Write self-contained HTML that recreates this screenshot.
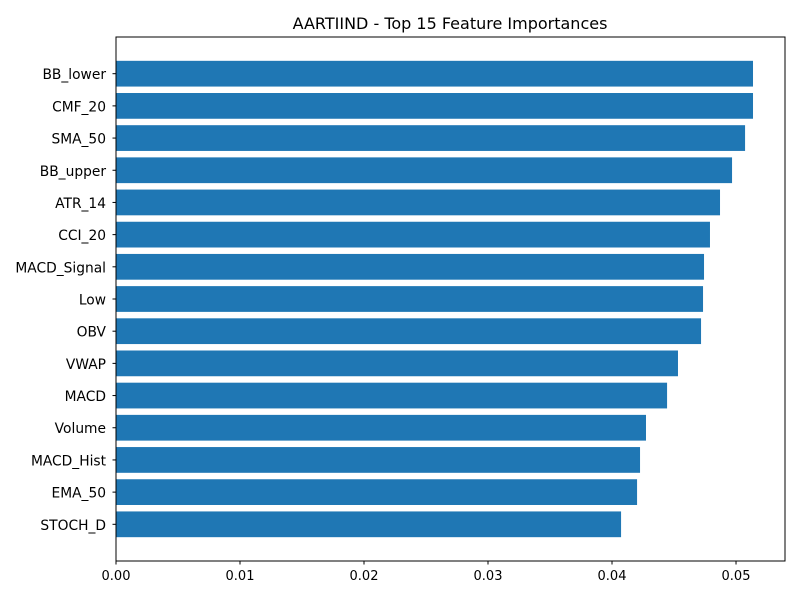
<!DOCTYPE html>
<html><head><meta charset="utf-8"><style>
body{margin:0;background:#fff;font-family:"Liberation Sans","DejaVu Sans",sans-serif;}
</style></head><body>
<svg width="800" height="600" xmlns="http://www.w3.org/2000/svg" font-family="DejaVu Sans, Liberation Sans, sans-serif">
<rect width="800" height="600" fill="#fff"/>
<text x="450" y="29" text-anchor="middle" font-size="16" fill="#000">AARTIIND - Top 15 Feature Importances</text>
<g id="bars"></g>
<g id="yt"></g>
<g id="xt"></g>
<rect x="116" y="37" width="669" height="524" fill="none" stroke="#000" stroke-width="1"/>
</svg>
<script>
const features=["BB_lower","CMF_20","SMA_50","BB_upper","ATR_14","CCI_20","MACD_Signal","Low","OBV","VWAP","MACD","Volume","MACD_Hist","EMA_50","STOCH_D"];
const importances=[0.05137,0.05137,0.05073,0.04968,0.04871,0.0479,0.04742,0.04734,0.04718,0.04532,0.04444,0.04274,0.04226,0.04202,0.04073];
const xTicks=[0,0.01,0.02,0.03,0.04,0.05];
const xTickLabels=["0.00","0.01","0.02","0.03","0.04","0.05"];
const NS="http://www.w3.org/2000/svg";
const L=116,R=785,T=37,B=561;
const xMax=0.05395;
const x=v=>L+(v/xMax)*(R-L);
const n=features.length;
const unit=(B-T)/((n-1+0.8)+2*0.05*(n-1+0.8));
const y=i=>T+unit*(0.05*(n-1+0.8)+0.4+i);
function mk(t,a,p){const e=document.createElementNS(NS,t);for(const k in a)e.setAttribute(k,a[k]);p.appendChild(e);return e;}
const gb=document.getElementById('bars'),gy=document.getElementById('yt'),gx=document.getElementById('xt');
features.forEach((f,i)=>{
 const c=y(i),h=0.8*unit;
 const r=mk('rect',{x:x(0),y:c-h/2,width:x(importances[i])-x(0),height:h,fill:'#1f77b4'},gb);
 
 
 mk('line',{x1:L-3.5,x2:L,y1:c,y2:c,stroke:'#000'},gy);
 const t=mk('text',{x:L-10,y:c+5.5,'text-anchor':'end','font-size':'13.8'},gy);
 t.textContent=f;
 
 
});
xTicks.forEach((v,i)=>{
 const px=x(v);
 mk('line',{x1:px,x2:px,y1:B,y2:B+3.5,stroke:'#000'},gx);
 const t=mk('text',{x:px,y:B+19,'text-anchor':'middle','font-size':'13'},gx);
 t.textContent=xTickLabels[i];
 
 
});
</script>
</body></html>
